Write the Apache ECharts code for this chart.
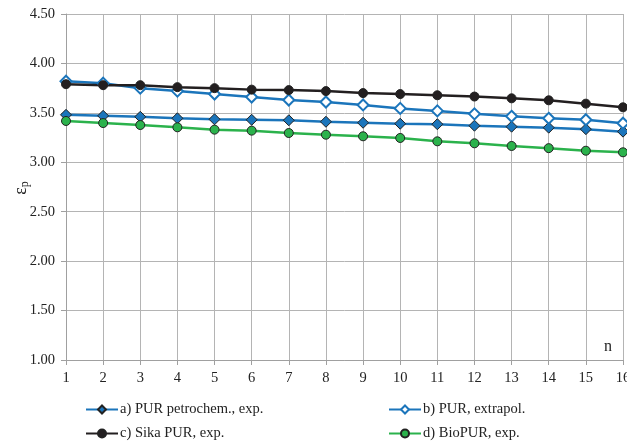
<!DOCTYPE html>
<html>
<head>
<meta charset="utf-8">
<script src="https://cdn.jsdelivr.net/npm/echarts@6/dist/echarts.min.js"></script>
<style>
  html, body { margin: 0; padding: 0; background: #fff; }
  #chart { width: 627px; height: 442px; }
</style>
</head>
<body>
<div id="chart"></div>
<script>
// cycle number n
const cycles = [1, 2, 3, 4, 5, 6, 7, 8, 9, 10, 11, 12, 13, 14, 15, 16]

const purPetrochem = [3.48, 3.47, 3.46, 3.445, 3.435, 3.43, 3.425, 3.41, 3.40, 3.39, 3.385, 3.37, 3.36, 3.35, 3.335, 3.31]
const purExtrapol = [3.82, 3.80, 3.75, 3.72, 3.69, 3.66, 3.63, 3.61, 3.58, 3.545, 3.52, 3.49, 3.465, 3.445, 3.43, 3.395]
const sikaPur = [3.79, 3.78, 3.78, 3.76, 3.75, 3.735, 3.73, 3.72, 3.70, 3.69, 3.678, 3.665, 3.647, 3.627, 3.593, 3.556]
const bioPur = [3.418, 3.397, 3.377, 3.354, 3.33, 3.32, 3.296, 3.279, 3.263, 3.246, 3.212, 3.192, 3.165, 3.143, 3.117, 3.101]

const seriesNames = ['a) PUR petrochem., exp.', 'b) PUR, extrapol.', 'c) Sika PUR, exp.', 'd) BioPUR, exp.']

const BLUE = '#1b75bb'
const BLACK = '#231f20'
const GREEN = '#2bb24c'
const FONT = 'Liberation Serif'
const FS = 14.5

const pairs = vals => cycles.map((n, i) => [n, vals[i]])

const chart = echarts.init(document.getElementById('chart'))

const lineSeries = (name, vals, color, symbol, size, border) => ({
  name,
  type: 'line',
  data: pairs(vals),
  symbol,
  symbolSize: size,
  showAllSymbol: true,
  lineStyle: { color, width: 2.5 },
  itemStyle: border ? { color, borderColor: '#222', borderWidth: 1 } : { color, borderWidth: 2 },
  emphasis: { disabled: true },
})

// one legend per entry so the two columns line up like the original
const legendAt = (name, left, top) => ({
  left,
  top,
  itemWidth: 32,
  itemHeight: 10,
  padding: 0,
  itemGap: 0,
  textStyle: { fontSize: FS, fontFamily: FONT, color: '#222', padding: [0, 0, 0, -3] },
  data: [name],
})

chart.setOption({
  backgroundColor: '#fff',
  animation: false,
  textStyle: { fontFamily: FONT },
  grid: { left: 66, right: 4, top: 14, bottom: 82, outerBoundsMode: 'none' },
  xAxis: {
    type: 'value',
    min: 1,
    max: 16,
    interval: 1,
    axisLine: { show: true, lineStyle: { color: '#a0a0a0' } },
    axisTick: { show: true, length: 5, lineStyle: { color: '#a0a0a0' } },
    axisLabel: { color: '#222', fontSize: FS, fontFamily: FONT, margin: 11 },
    splitLine: { show: true, lineStyle: { color: '#b4b4b4', width: 1 } },
  },
  yAxis: {
    type: 'value',
    min: 1,
    max: 4.5,
    interval: 0.5,
    axisLine: { show: true, lineStyle: { color: '#a0a0a0' } },
    axisTick: { show: true, length: 5, lineStyle: { color: '#a0a0a0' } },
    axisLabel: { color: '#222', fontSize: FS, fontFamily: FONT, margin: 11, formatter: v => v.toFixed(2) },
    splitLine: { show: true, lineStyle: { color: '#b4b4b4', width: 1 } },
  },
  legend: [
    legendAt(seriesNames[0], 85, 402),
    legendAt(seriesNames[2], 85, 426),
    legendAt(seriesNames[1], 388, 402),
    legendAt(seriesNames[3], 388, 426),
  ],
  graphic: [
    // y axis title, rotated like the original
    {
      type: 'text',
      x: 21,
      y: 188,
      rotation: Math.PI / 2,
      style: {
        text: '{a|ε}{b|p}',
        align: 'center',
        verticalAlign: 'middle',
        rich: {
          a: { fontSize: 18, fontFamily: FONT, fill: '#222' },
          b: { fontSize: 12, fontFamily: FONT, fill: '#222', padding: [8, 0, 0, 0] },
        },
      },
    },
    { type: 'text', left: 604, top: 339, style: { text: 'n', fontSize: 16, fontFamily: FONT, fill: '#222' } },
  ],
  series: [
    lineSeries(seriesNames[0], purPetrochem, BLUE, 'diamond', 11, true),
    lineSeries(seriesNames[1], purExtrapol, BLUE, 'emptyDiamond', 11, false),
    lineSeries(seriesNames[3], bioPur, GREEN, 'circle', 9, true),
    lineSeries(seriesNames[2], sikaPur, BLACK, 'circle', 9, true),
  ],
})
</script>
</body>
</html>
